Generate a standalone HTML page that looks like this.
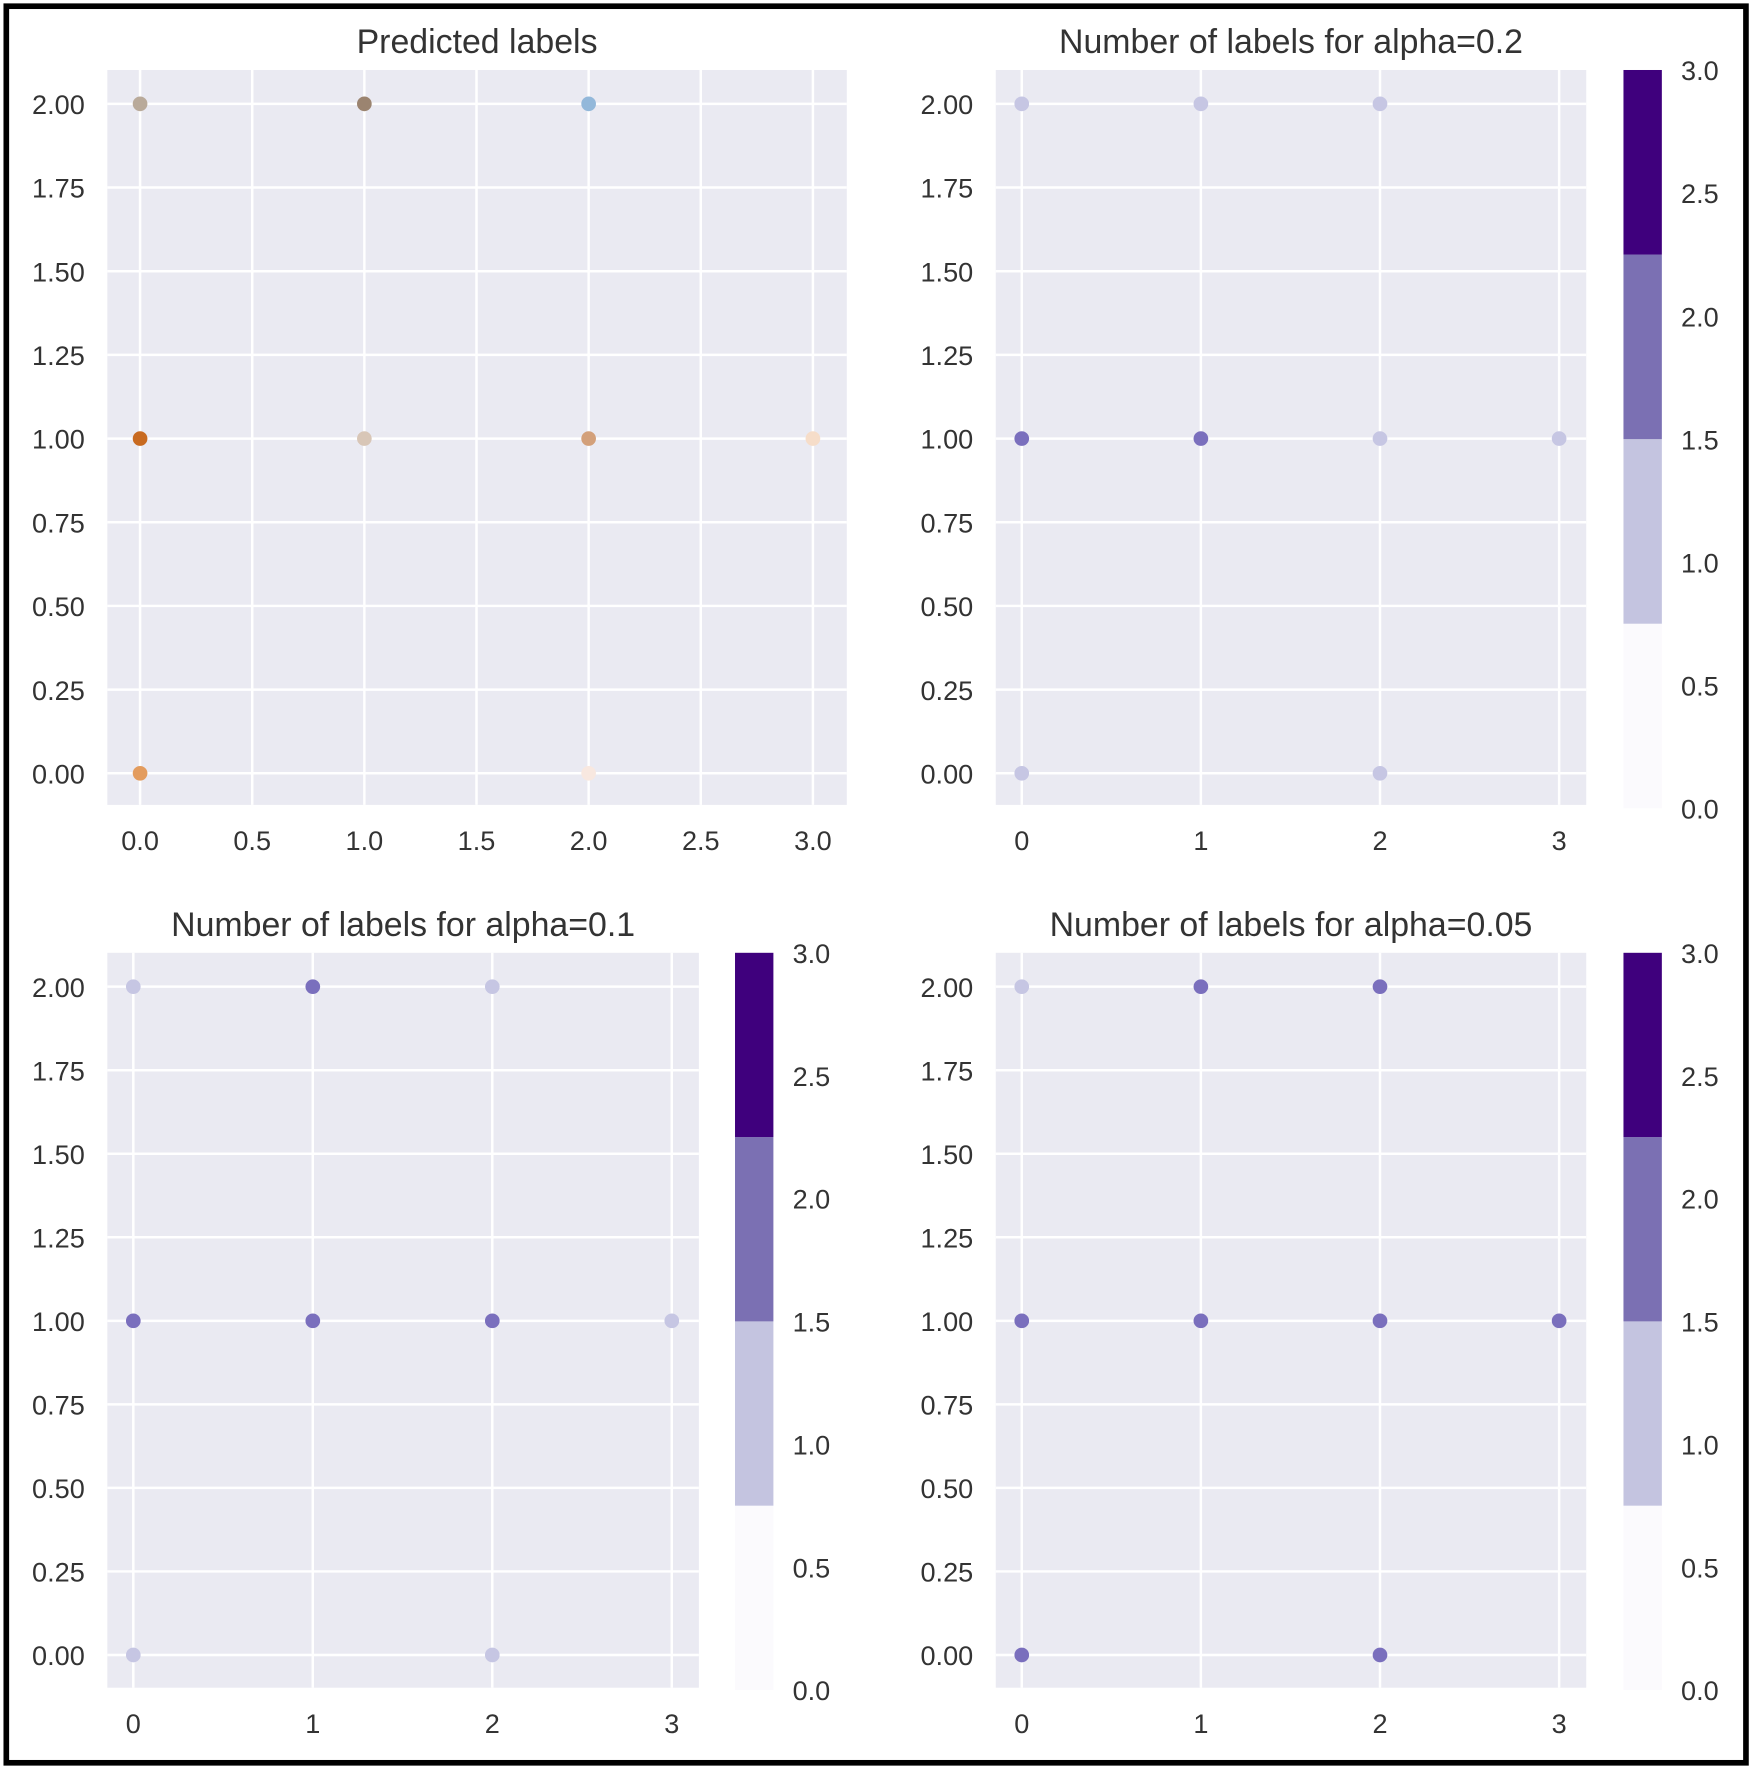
<!DOCTYPE html>
<html><head><meta charset="utf-8"><style>
html,body{margin:0;padding:0;background:#fff}
svg{display:block}
text{font-family:"Liberation Sans",sans-serif;fill:#333}
</style></head><body>
<svg id="fig" width="1750" height="1769" viewBox="0 0 1550 1567" xmlns="http://www.w3.org/2000/svg">
<rect x="5.5" y="5.5" width="1541" height="1556" fill="#fff" stroke="#000" stroke-width="5"/>
</svg>
<script>
// Data
const xs = [0,1,2,0,1,2,3,0,2];
const ys = [2,2,2,1,1,1,1,0,0];
const predColors = ['#b9aa9a','#9b8470','#93b8da','#c86a20','#d8c6b7','#d3a07a','#f6ddc9','#e39c5e','#f8e8e0'];
const counts02 = [1,1,1,2,2,1,1,1,1];
const counts01 = [1,2,1,2,2,2,1,1,1];
const counts005 = [1,2,2,2,2,2,2,2,2];
const yTicks = [0,0.25,0.5,0.75,1,1.25,1.5,1.75,2];
const xTicksPred = [0,0.5,1,1.5,2,2.5,3];
const xTicksInt = [0,1,2,3];
const cbTicks = [0,0.5,1,1.5,2,2.5,3];
const cbBounds = [0,0.75,1.5,2.25,3];
const cbColors = ['#fbfafd','#c4c4e0','#7b70b3','#3f007d'];

const NS='http://www.w3.org/2000/svg';
const svg=document.getElementById('fig');
function mk(tag,attrs,parent){const e=document.createElementNS(NS,tag);for(const k in attrs)e.setAttribute(k,attrs[k]);(parent||svg).appendChild(e);return e;}
function pointColor(v){return v>=2?'#7a6fbd':'#c6c6e3';}

function panel(name,box,xmin,xmax,x0px,x1px,xTicks,fmtX,title,colorsFn,cb){
  const g=mk('g',{});
  
  
  const sx=v=>x0px+(v-xmin)/(xmax-xmin)*(x1px-x0px);
  const sy=v=>box.y0px+(2-v)/2*(box.y1px-box.y0px);
  const bg=mk('rect',{x:box.l,y:box.t,width:box.r-box.l,height:box.b-box.t,fill:'#eaeaf2'},g);
  
  
  yTicks.forEach(t=>{
    const l=mk('line',{x1:box.l,x2:box.r,y1:sy(t),y2:sy(t),stroke:'#fff','stroke-width':2.2},g);
    
    
    const tx=mk('text',{x:box.l-20,y:sy(t)+9,'text-anchor':'end','font-size':24},g);
    tx.textContent=t.toFixed(2);
    
    
  });
  xTicks.forEach(t=>{
    const l=mk('line',{x1:sx(t),x2:sx(t),y1:box.t,y2:box.b,stroke:'#fff','stroke-width':2.2},g);
    
    
    const tx=mk('text',{x:sx(t),y:box.b+40,'text-anchor':'middle','font-size':24},g);
    tx.textContent=fmtX(t);
    
    
  });
  xs.forEach((x,i)=>{
    const c=mk('circle',{cx:sx(x),cy:sy(ys[i]),r:6.5,fill:colorsFn(i)},g);
    
    
  });
  const tt=mk('text',{x:(box.l+box.r)/2,y:box.t-15,'text-anchor':'middle','font-size':30},g);
  tt.textContent=title;
  
  
  if(cb){
    const cg=mk('g',{},g);
    
    
    const cy=v=>cb.b-(v/3)*(cb.b-cb.t);
    for(let i=0;i<cbColors.length;i++){
      const r=mk('rect',{x:cb.l,y:cy(cbBounds[i+1]),width:cb.w,height:cy(cbBounds[i])-cy(cbBounds[i+1]),fill:cbColors[i]},cg);
      
      
    }
    cbTicks.forEach(t=>{
      const tx=mk('text',{x:cb.l+cb.w+17,y:cy(t)+9,'font-size':24},cg);
      tx.textContent=t.toFixed(1);
      
      
    });
  }
}
const topBox={l:95,r:750,t:62,b:713,y0px:92,y1px:685};
panel('panel-predicted-labels',topBox,0,3,124,720,xTicksPred,t=>t.toFixed(1),'Predicted labels',i=>predColors[i],null);
panel('panel-alpha-0.2',{l:882,r:1405,t:62,b:713,y0px:92,y1px:685},0,3,905,1381,xTicksInt,t=>String(t),'Number of labels for alpha=0.2',i=>pointColor(counts02[i]),{l:1438,w:34,t:62,b:716});
panel('panel-alpha-0.1',{l:95,r:619,t:844,b:1495,y0px:874,y1px:1466},0,3,118,595,xTicksInt,t=>String(t),'Number of labels for alpha=0.1',i=>pointColor(counts01[i]),{l:651,w:34,t:844,b:1497});
panel('panel-alpha-0.05',{l:882,r:1405,t:844,b:1495,y0px:874,y1px:1466},0,3,905,1381,xTicksInt,t=>String(t),'Number of labels for alpha=0.05',i=>pointColor(counts005[i]),{l:1438,w:34,t:844,b:1497});
</script>
</body></html>
